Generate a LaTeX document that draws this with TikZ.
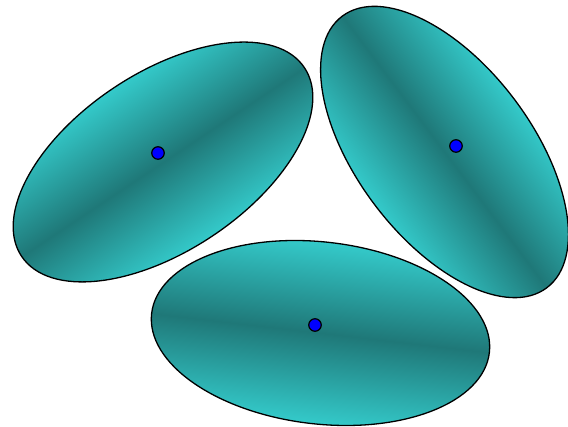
\documentclass[tikz,border=0pt]{standalone}
\definecolor{blobhi}{RGB}{52,202,202}
\definecolor{bloblo}{RGB}{31,120,120}
\tikzset{
  blob/.style={
    draw=black, line width=1.3pt,
    top color=blobhi, bottom color=blobhi, middle color=bloblo
  },
  hub/.style={
    circle, draw=black, line width=1.2pt, fill=blue,
    inner sep=0pt, minimum size=12.5pt
  }
}
\begin{document}
\begin{tikzpicture}[x=1pt,y=1pt]
  \useasboundingbox (0,0) rectangle (568,427);
  % the three shaded ellipses
  \begin{scope}[transform canvas={shift={(163,265)},rotate=33.7}]
    \shade[blob] (0,0) ellipse (170 and 89);
  \end{scope}
  \begin{scope}[transform canvas={shift={(444.5,275)},rotate=-53}]
    \shade[blob] (0,0) ellipse (170 and 87.5);
  \end{scope}
  \begin{scope}[transform canvas={shift={(320.5,94)},rotate=-6.6}]
    \shade[blob] (0,0) ellipse (170 and 91);
  \end{scope}
  % centre marks
  \node[hub] (hubleft) at (158,274) {};
  \node[hub] (hubright) at (456,281) {};
  \node[hub] (hubbottom) at (315,102) {};
\end{tikzpicture}
\end{document}
